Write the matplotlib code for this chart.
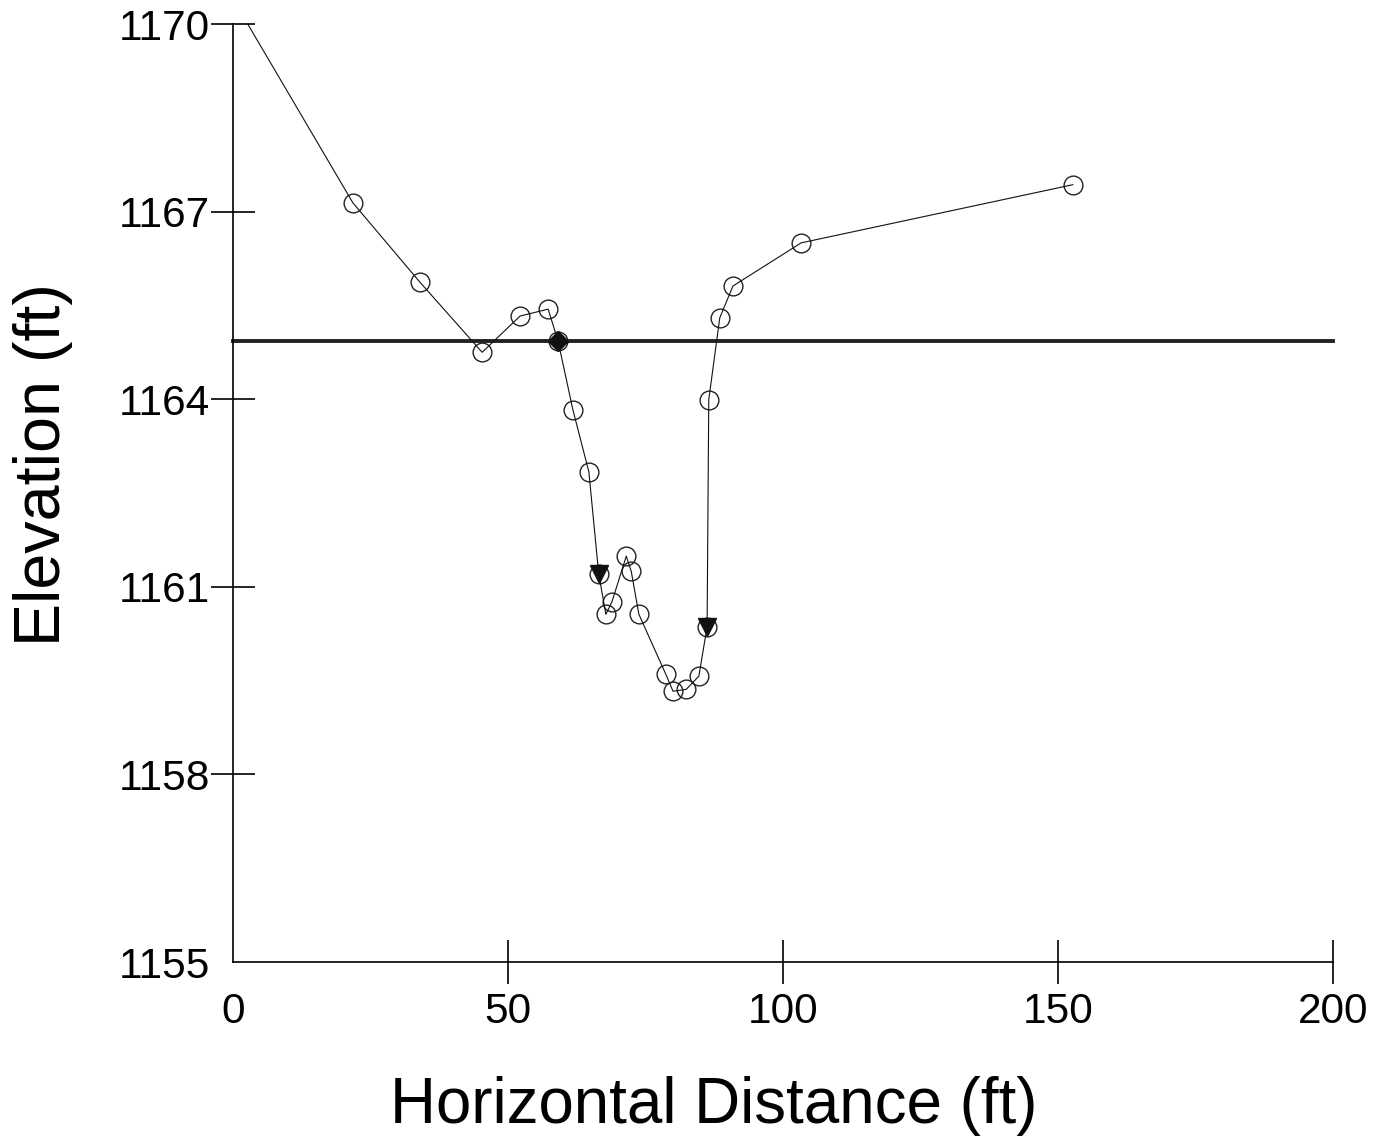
import matplotlib
matplotlib.use("Agg")
import matplotlib.pyplot as plt

plt.rcParams['font.family'] = ['Liberation Sans', 'DejaVu Sans']

# Ground profile (station ft, elevation ft)
station = [0.0, 21.8, 34.0, 45.3, 52.2, 57.3, 59.1, 61.8, 64.7, 66.5, 67.8, 68.9,
           71.5, 72.4, 73.8, 78.7, 80.0, 82.4, 84.7, 86.2, 86.5, 88.5, 90.9, 103.3, 152.7]
elevation = [1170.4, 1167.14, 1165.87, 1164.75, 1165.33, 1165.44, 1164.93, 1163.83, 1162.84,
             1161.20, 1160.56, 1160.76, 1161.49, 1161.25, 1160.56, 1159.60, 1159.33, 1159.36,
             1159.57, 1160.36, 1163.99, 1165.30, 1165.81, 1166.50, 1167.43]

water_x = [0, 200]
water_y = [1164.93, 1164.93]

diamond_x = [59.1]
diamond_y = [1164.93]
tri_x = [66.5, 86.2]
tri_y = [1161.20, 1160.36]

xticks = [0, 50, 100, 150, 200]
yticks = [1155, 1158, 1161, 1164, 1167, 1170]

fig = plt.figure(figsize=(13.74, 11.41), dpi=100)
ax = fig.add_axes([233/1374, 1-962/1141, 1100/1374, 938/1141])

ax.plot(water_x, water_y, color='#222222', lw=2.8, zorder=2, clip_on=False)
ax.plot(station[1:], elevation[1:], ls='none', marker='o', ms=13.5, mfc='none',
        mec='#222222', mew=1.0, zorder=3)
ax.plot(station, elevation, color='#111111', lw=0.8, zorder=4)
ax.plot(tri_x, tri_y, ls='none', marker='v', ms=13, color='#111111', zorder=5)
ax.plot(diamond_x, diamond_y, ls='none', marker='D', ms=10, color='#111111', zorder=5)

ax.set_xlim(0, 200)
ax.set_ylim(1155, 1170)
ax.set_xticks(xticks)
ax.set_yticks(yticks)
ax.spines['top'].set_visible(False)
ax.spines['right'].set_visible(False)
for s in ['left', 'bottom']:
    ax.spines[s].set_linewidth(1.2)
ax.tick_params(axis='both', direction='inout', length=31, width=1.2, labelsize=30.5)
ax.tick_params(axis='x', pad=6)
ax.tick_params(axis='y', pad=1)
# hide corner ticks
ax.xaxis.get_major_ticks()[0].tick1line.set_visible(False)
ax.yaxis.get_major_ticks()[0].tick1line.set_visible(False)

# axis titles placed at measured positions
fig.text(714/1374, 1-1106/1141, 'Horizontal Distance (ft)', fontsize=45.8,
         ha='center', va='center')
fig.text(43/1374, 1-465/1141, 'Elevation (ft)', fontsize=46.5,
         ha='center', va='center', rotation=90)

fig.savefig('out.png', dpi=100)
